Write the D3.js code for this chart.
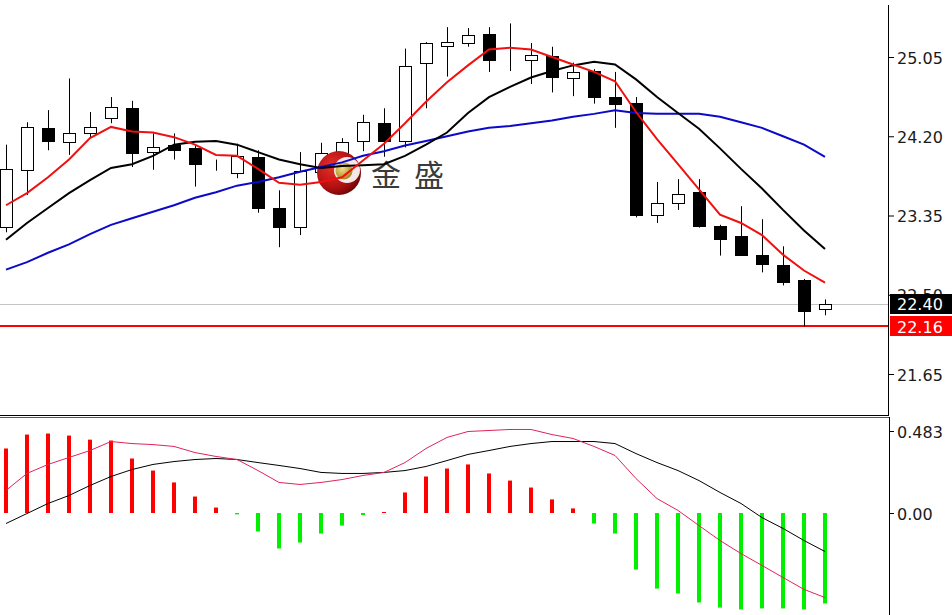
<!DOCTYPE html>
<html><head><meta charset="utf-8">
<script src="https://cdn.jsdelivr.net/npm/d3@7"></script>
<style>body{margin:0;background:#fff}svg{display:block}</style>
</head><body><svg id="c" width="952" height="615"></svg>
<script>
// ---- data ----
const bars = [0,1,2,3,4,5,6,7,8,9,10,11,12,13,14,15,16,17,18,19,20,21,22,23,24,25,26,27,28,29,30,31,32,33,34,35,36,37,38,39];
const opens  = [23.23,23.84,24.29,24.14,24.23,24.40,24.50,24.03,24.11,24.07,23.89,23.81,23.98,23.43,23.23,23.82,24.02,24.15,24.34,24.15,24.99,25.17,25.20,25.30,25.03,25.02,25.06,24.82,24.90,24.62,24.56,23.36,23.48,23.60,23.24,23.13,22.93,22.82,22.66,22.35];
const highs  = [24.11,24.35,24.48,24.82,24.46,24.62,24.58,24.23,24.23,24.10,23.95,24.12,24.05,23.62,24.03,24.13,24.18,24.43,24.50,25.14,25.21,25.37,25.36,25.37,25.41,25.20,25.16,24.99,24.92,24.89,24.62,23.71,23.74,23.74,23.25,23.45,23.31,23.02,22.67,22.45];
const lows   = [23.17,23.57,24.05,24.00,24.19,24.34,23.87,23.84,23.95,23.66,23.83,23.75,23.38,23.01,23.14,23.73,23.97,24.04,23.98,24.08,24.50,24.84,25.16,24.89,24.90,24.76,24.67,24.63,24.55,24.29,23.33,23.27,23.41,23.22,22.92,22.92,22.74,22.60,22.16,22.28];
const closes = [23.85,24.30,24.15,24.23,24.30,24.51,24.02,24.08,24.05,23.90,23.89,23.99,23.43,23.23,23.83,24.02,24.14,24.35,24.15,24.95,25.20,25.21,25.29,25.02,25.03,25.07,24.84,24.89,24.62,24.55,23.36,23.48,23.58,23.24,23.10,22.93,22.83,22.64,22.33,22.40];
const ma5  = [23.46,23.59,23.76,23.95,24.18,24.30,24.25,24.24,24.19,24.11,24.00,23.99,23.85,23.70,23.68,23.71,23.76,23.94,24.12,24.34,24.57,24.78,24.96,25.13,25.15,25.13,25.05,24.97,24.89,24.79,24.46,24.17,23.90,23.63,23.36,23.27,23.14,22.93,22.76,22.63];
const ma10 = [23.09,23.27,23.43,23.59,23.73,23.86,23.90,23.99,24.11,24.14,24.15,24.11,24.03,23.95,23.90,23.86,23.88,23.89,23.90,23.99,24.11,24.24,24.45,24.62,24.73,24.83,24.90,24.96,25.00,24.97,24.81,24.62,24.45,24.28,24.07,23.85,23.64,23.41,23.19,22.99];
const ma20 = [22.77,22.85,22.95,23.04,23.15,23.25,23.32,23.39,23.46,23.54,23.60,23.67,23.71,23.76,23.82,23.87,23.92,23.99,24.04,24.10,24.15,24.20,24.25,24.29,24.31,24.34,24.37,24.41,24.44,24.48,24.45,24.44,24.44,24.44,24.41,24.35,24.29,24.20,24.11,23.98];
const macdHist = [0.380,0.462,0.468,0.456,0.432,0.427,0.321,0.250,0.180,0.097,0.032,-0.008,-0.109,-0.209,-0.174,-0.121,-0.074,-0.012,0.006,0.121,0.215,0.262,0.286,0.233,0.191,0.150,0.080,0.027,-0.062,-0.121,-0.333,-0.445,-0.474,-0.527,-0.557,-0.568,-0.562,-0.562,-0.568,-0.533];
const macdDif  = [0.133,0.233,0.286,0.327,0.368,0.421,0.409,0.403,0.392,0.356,0.333,0.315,0.250,0.180,0.168,0.180,0.197,0.221,0.239,0.297,0.380,0.445,0.480,0.486,0.492,0.492,0.462,0.439,0.392,0.339,0.203,0.085,0.015,-0.074,-0.162,-0.239,-0.309,-0.380,-0.450,-0.498];
const macdDea  = [-0.062,-0.003,0.056,0.103,0.162,0.215,0.256,0.286,0.303,0.315,0.321,0.315,0.297,0.280,0.262,0.239,0.233,0.233,0.239,0.250,0.274,0.309,0.345,0.368,0.392,0.409,0.421,0.421,0.421,0.409,0.350,0.297,0.250,0.191,0.121,0.056,-0.027,-0.091,-0.162,-0.227];
const priceTicks = [25.05, 24.20, 23.35, 22.50, 21.65];
const priceTickLabels = ["25.05","24.20","23.35","22.50","21.65"];
const macdTicks = [0.483, 0.00];
const macdTickLabels = ["0.483","0.00"];
const lastPrice = 22.40, lastPriceLabel = "22.40";
const lowLine = 22.16, lowLineLabel = "22.16";
const logoText = ["金","盛"];

// ---- drawing ----
const svg = d3.select("#c");
const FONT = "'DejaVu Sans', Verdana, sans-serif";
const x = d3.scaleLinear().domain([0, 39]).range([6, 825]);
const y = d3.scaleLinear().domain([21.65, 25.05]).range([374, 57]);
const ym = d3.scaleLinear().domain([0, 0.483]).range([513, 431]);

const main = svg.append("g");
// horizontal reference lines
main.append("line").attr("x1",0).attr("x2",888).attr("y1",Math.round(y(lastPrice))+0.5).attr("y2",Math.round(y(lastPrice))+0.5)
  .attr("stroke","#c4c4c4").attr("stroke-width",1);
main.append("line").attr("x1",0).attr("x2",888).attr("y1",Math.round(y(lowLine))).attr("y2",Math.round(y(lowLine)))
  .attr("stroke","#ff0000").attr("stroke-width",2);

// candles
const cg = main.append("g");
bars.forEach(i => {
  const cx = Math.round(x(i)) + 0.5;
  cg.append("line").attr("x1",cx).attr("x2",cx).attr("y1",y(highs[i])).attr("y2",y(lows[i]))
    .attr("stroke","#000").attr("stroke-width",1);
  const top = Math.round(y(Math.max(opens[i], closes[i]))) + 0.5;
  const bot = Math.round(y(Math.min(opens[i], closes[i]))) + 0.5;
  const up = closes[i] >= opens[i];
  cg.append("rect").attr("x", cx - 6).attr("y", top).attr("width", 12).attr("height", Math.max(0, bot - top))
    .attr("fill", up ? "#fff" : "#000").attr("stroke","#000").attr("stroke-width",1);
});

// logo watermark
const defs = svg.append("defs");
const rg = defs.append("radialGradient").attr("id","rg").attr("cx","35%").attr("cy","35%").attr("r","70%");
rg.append("stop").attr("offset","0%").attr("stop-color","#e8302a");
rg.append("stop").attr("offset","70%").attr("stop-color","#b01010");
rg.append("stop").attr("offset","100%").attr("stop-color","#6e0606");
const gg = defs.append("radialGradient").attr("id","gg").attr("cx","40%").attr("cy","35%").attr("r","65%");
gg.append("stop").attr("offset","0%").attr("stop-color","#f4e08a");
gg.append("stop").attr("offset","100%").attr("stop-color","#a8861e");
const logo = main.append("g");
logo.append("circle").attr("cx",339).attr("cy",173).attr("r",22).attr("fill","url(#rg)");
logo.append("circle").attr("cx",347).attr("cy",170).attr("r",13).attr("fill","#fff").attr("opacity",0.9);
logo.append("circle").attr("cx",344).attr("cy",171).attr("r",8.5).attr("fill","url(#gg)");
logo.selectAll("text.lt").data(logoText).enter().append("text")
  .attr("x",(d,i)=> i === 0 ? 371 : 414).attr("y",186)
  .attr("font-family","'Noto Sans CJK SC', sans-serif").attr("font-size",30)
  .attr("fill","#3a3a3a").text(d=>d);

// moving averages
const line = arr => d3.line().x((d,i)=>x(i)).y(d=>y(d))(arr);
main.append("path").attr("d", line(ma20)).attr("fill","none").attr("stroke","#0a0ac8").attr("stroke-width",2);
main.append("path").attr("d", line(ma10)).attr("fill","none").attr("stroke","#000").attr("stroke-width",2);
main.append("path").attr("d", line(ma5)).attr("fill","none").attr("stroke","#f01010").attr("stroke-width",2);

// MACD panel
const mg = svg.append("g");
bars.forEach(i => {
  const v = macdHist[i];
  const y0 = ym(0), y1 = ym(v);
  mg.append("rect").attr("x", Math.round(x(i)) - 2).attr("width", 4)
    .attr("y", Math.min(y0, y1)).attr("height", Math.max(1, Math.abs(y1 - y0)))
    .attr("fill", v >= 0 ? "#ff0000" : "#00f000");
});
const lineM = arr => d3.line().x((d,i)=>x(i)).y(d=>ym(d))(arr);
mg.append("path").attr("d", lineM(macdDea)).attr("fill","none").attr("stroke","#000").attr("stroke-width",1);
mg.append("path").attr("d", lineM(macdDif)).attr("fill","none").attr("stroke","#e0245a").attr("stroke-width",1);

// borders
svg.append("line").attr("x1",888.5).attr("x2",888.5).attr("y1",5).attr("y2",416).attr("stroke","#000");
svg.append("line").attr("x1",0).attr("x2",889).attr("y1",415.5).attr("y2",415.5).attr("stroke","#000");
svg.append("line").attr("x1",0).attr("x2",890).attr("y1",417.5).attr("y2",417.5).attr("stroke","#555");
svg.append("line").attr("x1",889.5).attr("x2",889.5).attr("y1",417).attr("y2",615).attr("stroke","#000");

// axes
const ax = svg.append("g").attr("transform","translate(889,0)")
  .call(d3.axisRight(y).tickValues(priceTicks).tickSize(5).tickPadding(3).tickFormat((d,i)=>priceTickLabels[i]));
const axm = svg.append("g").attr("transform","translate(890,0)")
  .call(d3.axisRight(ym).tickValues(macdTicks).tickSize(4).tickPadding(3).tickFormat((d,i)=>macdTickLabels[i]));
[ax, axm].forEach(a => {
  a.select(".domain").remove();
  a.selectAll("text").attr("font-family",FONT).attr("font-size",16).attr("fill","#1a1a1a").attr("dy","0.38em");
  a.selectAll("line").attr("stroke","#000");
});

// price tags
function tag(val, label, bg) {
  const cy = y(val);
  svg.append("rect").attr("x",890).attr("y",Math.round(cy) - 10).attr("width",62).attr("height",20).attr("fill",bg);
  svg.append("text").attr("x",897).attr("y",cy).attr("dy","0.38em").attr("font-family",FONT).attr("font-size",16)
    .attr("fill","#fff").text(label);
}
tag(lastPrice, lastPriceLabel, "#000");
tag(lowLine, lowLineLabel, "#ff0000");
</script></body></html>
